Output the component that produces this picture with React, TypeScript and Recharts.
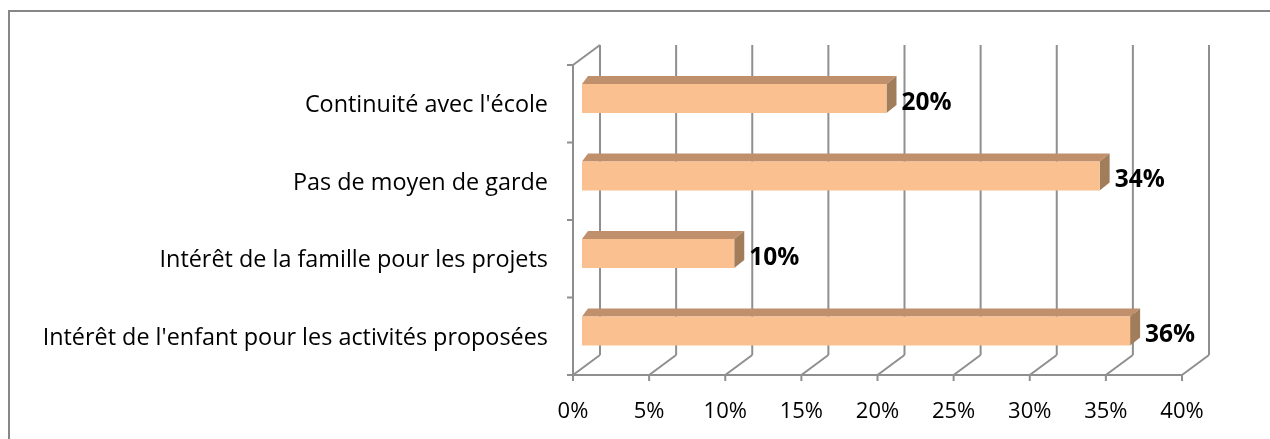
import React from "react";
import { BarChart, Bar, XAxis, YAxis, CartesianGrid, LabelList } from "recharts";

const categories = [
  "Continuité avec l'école",
  "Pas de moyen de garde",
  "Intérêt de la famille pour les projets",
  "Intérêt de l'enfant pour les activités proposées",
];
const values = [0.2, 0.34, 0.1, 0.36];
const xTicks = [0, 0.05, 0.1, 0.15, 0.2, 0.25, 0.3, 0.35, 0.4];

const data = categories.map((c, i) => ({ name: c, value: values[i] }));

const W = 1262;
const H = 423;
const M = { top: 57, right: 88, bottom: 16, left: 0 };
const Y_W = 565;
const X_H = 40;
const PLOT_H = H - M.top - M.bottom - X_H;
const DEPTH_X = 27;
const DEPTH_Y = 20;
const GRID = "#8f8f8f";
const FONT = "'Open Sans', 'Noto Sans', sans-serif";
const FRONT = "#FAC090";
const TOP = "#C0906C";
const SIDE = "#A27D5B";
const FACE_DX = 9;
const FACE_DY = -5;
const BOX_DX = 10;
const BOX_DY = 8;

const pct = (v: number) => `${Math.round(v * 100)}%`;

const Bar3D = (props: any) => {
  const { x, y, width, height } = props;
  if (width == null || height == null) return null;
  const fx = x + FACE_DX;
  const fy = y + FACE_DY;
  return (
    <g>
      <polygon
        points={`${fx},${fy} ${fx + 6},${fy - BOX_DY} ${fx + width + BOX_DX},${fy - BOX_DY} ${fx + width},${fy}`}
        fill={TOP}
      />
      <polygon
        points={`${fx + width},${fy} ${fx + width + BOX_DX},${fy - BOX_DY} ${fx + width + BOX_DX},${fy + height - BOX_DY} ${fx + width},${fy + height}`}
        fill={SIDE}
      />
      <rect x={fx} y={fy} width={width} height={height} fill={FRONT} />
    </g>
  );
};

const ValueLabel = (props: any) => {
  const { x, y, width, height, value } = props;
  return (
    <text
      x={x + width + 24}
      y={y + FACE_DY + height / 2 + 11}
      fontFamily={FONT}
      fontWeight={700}
      fontSize={24.5}
      fill="#000"
    >
      {pct(value)}
    </text>
  );
};

const GridLine = (props: any) => {
  const { x1, y1, y2, index } = props;
  return (
    <g key={`g-${index}`}>
      <line x1={x1 + DEPTH_X} y1={y1 - DEPTH_Y} x2={x1 + DEPTH_X} y2={y2 - DEPTH_Y} stroke={GRID} strokeWidth={2} />
      <line x1={x1} y1={y2} x2={x1 + DEPTH_X} y2={y2 - DEPTH_Y} stroke={GRID} strokeWidth={2} />
      {index === 0 ? (
        <line x1={x1} y1={y1} x2={x1 + DEPTH_X} y2={y1 - DEPTH_Y} stroke={GRID} strokeWidth={2} />
      ) : null}
    </g>
  );
};

const XTick = (props: any) => {
  const { x, y, payload } = props;
  return (
    <text x={x} y={y + 37} textAnchor="middle" fontFamily={FONT} fontSize={22} fill="#000">
      {pct(payload.value)}
    </text>
  );
};

const YTick = (props: any) => {
  const { x, y, payload, index } = props;
  const half = PLOT_H / categories.length / 2;
  return (
    <g>
      <line x1={x - 6} y1={y - half} x2={x} y2={y - half} stroke={GRID} strokeWidth={2} />
      {index === categories.length - 1 ? (
        <line x1={x - 6} y1={y + half} x2={x} y2={y + half} stroke={GRID} strokeWidth={2} />
      ) : null}
      <text x={x - 25} y={y + 8.5} textAnchor="end" fontFamily={FONT} fontSize={23.4} fill="#000">
        {payload.value}
      </text>
    </g>
  );
};

export default function App() {
  return (
    <div style={{ position: "relative", width: W, height: H, background: "#fff" }}>
      <div
        style={{
          position: "fixed",
          left: 8,
          top: 10,
          right: 0,
          bottom: 0,
          borderLeft: "2px solid #878787",
          borderTop: "2px solid #878787",
          boxSizing: "border-box",
          pointerEvents: "none",
        }}
      />
      <div style={{ position: "absolute", left: 0, top: 0 }}>
        <BarChart width={W} height={H} data={data} layout="vertical" margin={M}>
          <CartesianGrid horizontal={false} vertical={GridLine} />
          <XAxis
            type="number"
            domain={[0, 0.4]}
            ticks={xTicks}
            interval={0}
            height={X_H}
            tickSize={6}
            tickMargin={0}
            axisLine={{ stroke: GRID, strokeWidth: 2 }}
            tickLine={{ stroke: GRID, strokeWidth: 2 }}
            tick={XTick}
          />
          <YAxis
            type="category"
            dataKey="name"
            width={Y_W}
            tickSize={0}
            tickMargin={0}
            tickLine={false}
            interval={0}
            axisLine={{ stroke: GRID, strokeWidth: 2 }}
            tick={YTick}
          />
          <Bar dataKey="value" barSize={29} shape={Bar3D} isAnimationActive={false}>
            <LabelList dataKey="value" content={ValueLabel} />
          </Bar>
        </BarChart>
      </div>
    </div>
  );
}
